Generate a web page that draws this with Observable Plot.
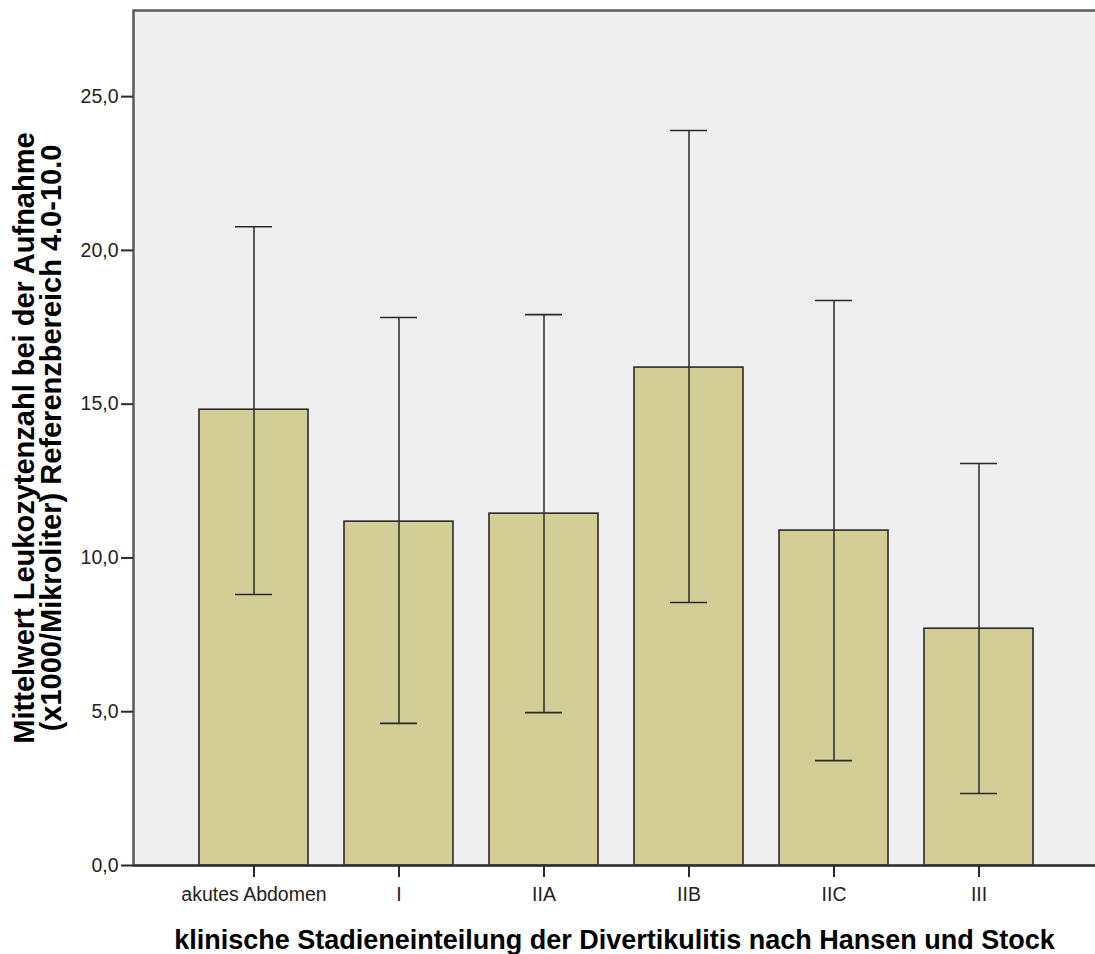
<!DOCTYPE html>
<html><head><meta charset="utf-8">
<script src="https://cdn.jsdelivr.net/npm/d3@7"></script>
<script src="https://cdn.jsdelivr.net/npm/@observablehq/plot@0.6"></script>
<style>html,body{margin:0;padding:0;background:#fff;overflow:hidden;}</style>
</head><body><div id="chart"></div>
<script>
const categories = ["akutes Abdomen", "I", "IIA", "IIB", "IIC", "III"];
const means = [14.82, 11.18, 11.44, 16.19, 10.89, 7.70];
const upper = [20.77, 17.82, 17.91, 23.90, 18.37, 13.07];
const lower = [8.81, 4.62, 4.97, 8.55, 3.41, 2.34];
const yTicks = [0, 5, 10, 15, 20, 25];
const xTitle = "klinische Stadieneinteilung der Divertikulitis nach Hansen und Stock";
const yTitle = ["Mittelwert Leukozytenzahl bei der Aufnahme", "(x1000/Mikroliter) Referenzbereich 4.0-10.0"];

const data = categories.map((c, i) => ({stage: c, mean: means[i], hi: upper[i], lo: lower[i]}));
const ink = "#2a2a2a";

const chart = Plot.plot({
  width: 1095, height: 954,
  marginLeft: 133, marginRight: 0, marginTop: 10, marginBottom: 89,
  style: {fontFamily: "'Liberation Sans', Arial, sans-serif", fontSize: "19.5px", background: "#fff", color: "#222"},
  x: {domain: categories, range: [133, 1099], paddingInner: 0.25, paddingOuter: 0.45, label: null},
  y: {domain: [0, 27.8], label: null},
  marks: [
    Plot.frame({fill: "#efefef", stroke: "none", insetRight: -8}),
    Plot.barY(data, {x: "stage", y: "mean", fill: "#d3cd96", stroke: ink, strokeWidth: 1.6}),
    Plot.ruleX(data, {x: "stage", y1: "lo", y2: "hi", stroke: ink, strokeWidth: 1.5}),
    Plot.tickY(data, {x: "stage", y: "hi", insetLeft: 36, insetRight: 36, stroke: ink, strokeWidth: 1.6}),
    Plot.tickY(data, {x: "stage", y: "lo", insetLeft: 36, insetRight: 36, stroke: ink, strokeWidth: 1.6}),
    Plot.frame({stroke: "#5a5a5a", strokeWidth: 2.5, fill: "none", insetRight: -8}),
    Plot.axisY({ticks: yTicks, tickFormat: d => d.toFixed(1).replace(".", ","), tickSize: 12, tickPadding: 3, stroke: ink, strokeWidth: 2, label: null}),
    Plot.axisX({tickSize: 12, tickPadding: 10, stroke: ink, strokeWidth: 2, label: null}),
    Plot.ruleY([0], {stroke: ink, strokeWidth: 2}),
    Plot.text([xTitle], {text: d => d, frameAnchor: "bottom", dy: 83, fontSize: 27, fontWeight: "bold", lineAnchor: "bottom", fill: "#000"}),
    Plot.text([yTitle.join("\n")], {text: d => d, frameAnchor: "left", textAnchor: "middle", dx: -73, rotate: -90, fontSize: 29, fontWeight: "bold", lineAnchor: "bottom", lineHeight: 0.9, fill: "#000"})
  ]
});
document.getElementById("chart").append(chart);
</script>
</body></html>
